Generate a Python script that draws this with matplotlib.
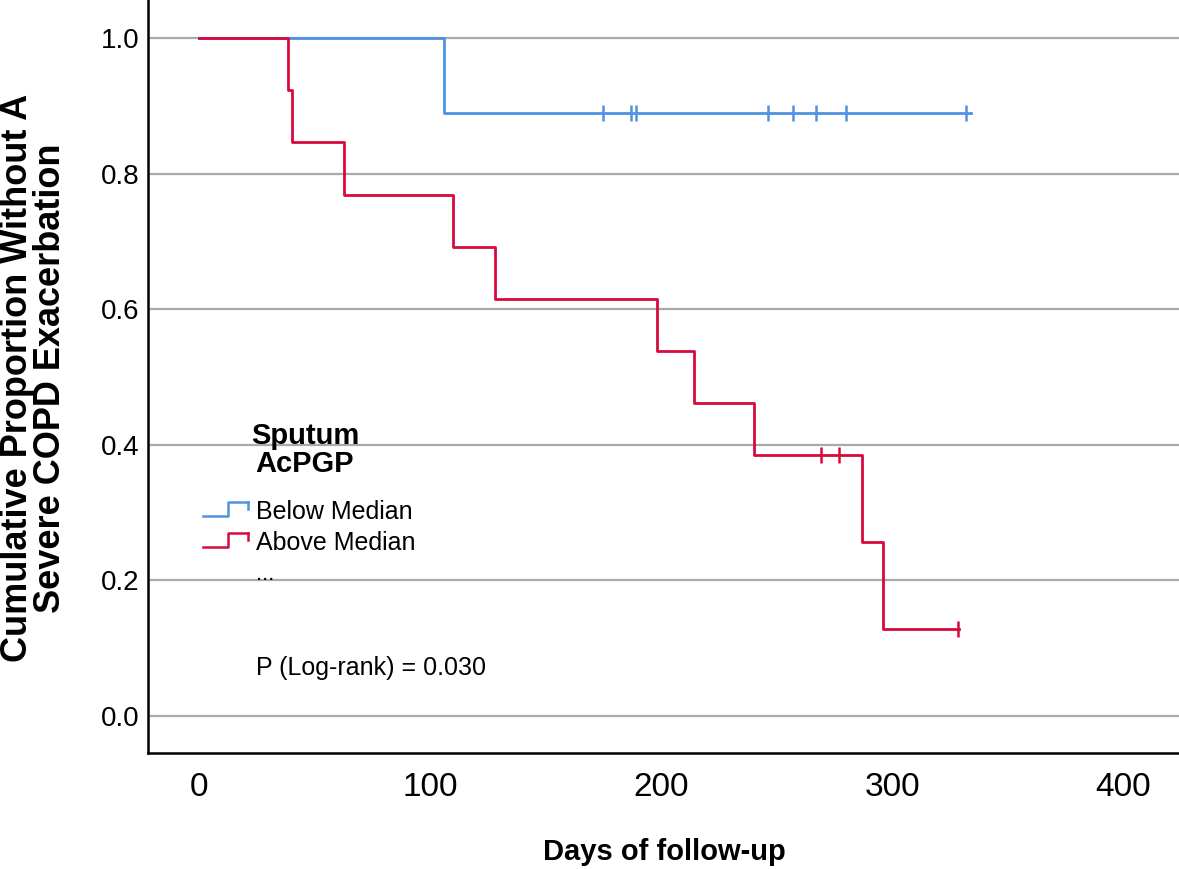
import numpy as np
import matplotlib
matplotlib.use("Agg")
import matplotlib.pyplot as plt
from matplotlib.lines import Line2D

plt.rcParams['font.family'] = ['Liberation Sans', 'DejaVu Sans']

# Kaplan-Meier steps
blue_label = "Below Median"
blue_event_days = [106]
blue_surv = [1.0, 0.889]
blue_censor_days = [175, 187, 189, 246, 257, 267, 280, 332]
blue_end = 334

red_label = "Above Median"
red_event_days = [38.5, 40.5, 63, 110, 128, 198, 214, 240, 287, 296]
red_surv = [1.0, 0.923, 0.846, 0.769, 0.692, 0.615, 0.538, 0.462, 0.385, 0.256, 0.128]
red_censor_days = [269, 277, 328.5]
red_end = 329

x_ticks = [0, 100, 200, 300, 400]
y_ticks = [0.0, 0.2, 0.4, 0.6, 0.8, 1.0]

BLUE = '#5092e2'
RED = '#d70a3c'

W, H = 1179, 869
fig = plt.figure(figsize=(W / 100, H / 100), dpi=100)
ax = fig.add_axes([148 / W, 1 - 753 / H, 1 - 148 / W, 753 / H])


def surv_at(days, events, surv):
    idx = np.searchsorted(events, days, side='right')
    return [surv[i] for i in idx]


def draw_curve(events, surv, censors, end, color):
    xs = [0] + list(events) + [end]
    ys = list(surv) + [surv[-1]]
    ax.plot(xs, ys, drawstyle='steps-post', color=color, lw=2.0, zorder=3)
    ax.plot(censors, surv_at(censors, events, surv), ls='none', marker='|',
            ms=11, mew=1.8, color=color, zorder=3)


draw_curve(blue_event_days, blue_surv, blue_censor_days, blue_end, BLUE)
draw_curve(red_event_days, red_surv, red_censor_days, red_end, RED)

ax.set_xlim(-22, 424)
ax.set_ylim(-0.0546, 1.056)
ax.set_xticks(x_ticks)
ax.set_yticks(y_ticks)
ax.set_yticklabels([f"{v:.1f}" for v in y_ticks])
ax.tick_params(axis='x', length=0, labelsize=24, pad=14)
ax.tick_params(axis='y', length=0, labelsize=20, pad=6)
ax.grid(axis='y', color='#aaaaaa', lw=1.6)
ax.set_axisbelow(True)
for s in ['top', 'right']:
    ax.spines[s].set_visible(False)
for s in ['left', 'bottom']:
    ax.spines[s].set_linewidth(1.8)

fig.text(664 / W, 1 - 852 / H, "Days of follow-up", fontsize=21,
         fontweight='bold', ha='center', va='center')
fig.text(34 / W, 1 - 378 / H,
         "Cumulative Proportion Without A\nSevere COPD Exacerbation",
         fontsize=26, fontweight='bold', rotation=90, ha='center',
         va='center', multialignment='center', linespacing=0.9)

# legend drawn by hand
fig.text(305 / W, 1 - 450 / H, "Sputum\nAcPGP", fontsize=21,
         fontweight='bold', ha='center', va='center', linespacing=1.0)
for py, col, lab in [(512, BLUE, blue_label), (543, RED, red_label)]:
    hx = np.array([203, 228, 228, 248]) / W
    hy = 1 - np.array([py + 4, py + 4, py - 10, py - 10]) / H
    fig.add_artist(Line2D(hx, hy, color=col, lw=1.8))
    fig.add_artist(Line2D([248 / W, 248 / W], [1 - (py - 10) / H, 1 - (py - 3) / H],
                          color=col, lw=1.8))
    fig.text(256 / W, 1 - py / H, lab, fontsize=18, ha='left', va='center')
fig.text(256 / W, 1 - 574 / H, "...", fontsize=16, ha='left', va='center')

fig.text(256 / W, 1 - 668 / H, "P (Log-rank) = 0.030", fontsize=18,
         ha='left', va='center')

fig.savefig("out.png", dpi=100)
